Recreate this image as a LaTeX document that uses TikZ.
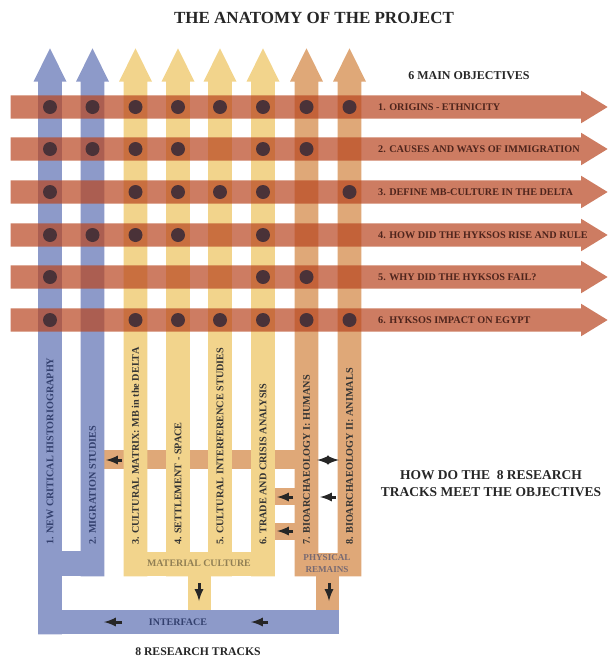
\documentclass[tikz,border=0pt]{standalone}
\usepackage{fontspec}
\setmainfont{Liberation Serif}
\usetikzlibrary{positioning,shapes.arrows}
\definecolor{trackblue}{HTML}{8D9AC9}
\definecolor{trackyellow}{HTML}{F2D48C}
\definecolor{tracktan}{HTML}{DFA878}
\definecolor{objred}{HTML}{B8451F}
\definecolor{dotbrown}{HTML}{4A3238}
\definecolor{navytxt}{HTML}{33406E}
\definecolor{rowtxt}{HTML}{4E241C}

\begin{document}
\begin{tikzpicture}[x=1pt, y=-1pt,
  trk/.style={single arrow, anchor=tip, rotate=90, inner xsep=0pt, inner ysep=11.75pt, minimum width=33pt,
    single arrow head extend=4.5pt, single arrow tip angle=53, single arrow head indent=0pt},
  obj/.style={single arrow, anchor=tip, fill=objred, fill opacity=.7, inner xsep=0pt, inner ysep=11.5pt, minimum width=32pt,
    minimum height=597pt, single arrow head extend=4.5pt, single arrow tip angle=63, single arrow head indent=0pt},
  pt/.style={circle, fill=dotbrown, inner sep=0pt, minimum size=14pt},
  lab/.style={font=\bfseries\fontsize{10.2}{11}\selectfont, text=rowtxt, anchor=west, inner sep=0pt},
  vlab/.style={font=\bfseries\fontsize{10.2}{11}\selectfont, text=black!80, rotate=90, anchor=west, inner sep=0pt},
  head/.style={font=\bfseries\fontsize{13.5}{17}\selectfont, text=black!85, align=center, inner sep=0pt},
  blk/.style={->, >=latex, line width=3pt, black!85}]
\useasboundingbox (0,0) rectangle (608,659);
% columns and rows
\coordinate (c1) at (50,0);
\coordinate (c2) at (92.5,0);
\coordinate (c3) at (135.5,0);
\coordinate (c4) at (178,0);
\coordinate (c5) at (220,0);
\coordinate (c6) at (263,0);
\coordinate (c7) at (306.5,0);
\coordinate (c8) at (349.5,0);
\coordinate (r1) at (0,107);
\coordinate (r2) at (0,149);
\coordinate (r3) at (0,192);
\coordinate (r4) at (0,235);
\coordinate (r5) at (0,277);
\coordinate (r6) at (0,320);
\coordinate (top) at (0,48);
\coordinate (end) at (608,0);
\coordinate (txt) at (378,0);
\coordinate (foot) at (0,545);
% crossing band behind the tracks
\fill[tracktan] (104,450) rectangle (295,469);
\fill[tracktan] (275,488) rectangle (295,505);
\fill[tracktan] (275,523) rectangle (295,540);
% tracks
\node[trk,fill=trackblue,minimum height=586pt]   (t1) at (c1|-top) {};
\node[trk,fill=trackblue,minimum height=528pt]   (t2) at (c2|-top) {};
\node[trk,fill=trackyellow,minimum height=528pt] (t3) at (c3|-top) {};
\node[trk,fill=trackyellow,minimum height=528pt] (t4) at (c4|-top) {};
\node[trk,fill=trackyellow,minimum height=528pt] (t5) at (c5|-top) {};
\node[trk,fill=trackyellow,minimum height=528pt] (t6) at (c6|-top) {};
\node[trk,fill=tracktan,minimum height=528pt]    (t7) at (c7|-top) {};
\node[trk,fill=tracktan,minimum height=528pt]    (t8) at (c8|-top) {};
% feet of the tracks
\fill[trackblue] (50,551) rectangle (104,576);
\fill[trackblue] (38,610) rectangle (339,634);
\fill[trackyellow] (124,552) rectangle (275,576);
\fill[trackyellow] (188,576) rectangle (211,610);
\fill[tracktan] (295,553) rectangle (361,576);
\fill[tracktan] (316,576) rectangle (339,610);
% objectives
\node[obj] (o1) at (end|-r1) {};
\node[obj] (o2) at (end|-r2) {};
\node[obj] (o3) at (end|-r3) {};
\node[obj] (o4) at (end|-r4) {};
\node[obj] (o5) at (end|-r5) {};
\node[obj] (o6) at (end|-r6) {};
% dots
\node[pt] (d11) at (c1|-r1) {};
\node[pt] (d12) at (c2|-r1) {};
\node[pt] (d13) at (c3|-r1) {};
\node[pt] (d14) at (c4|-r1) {};
\node[pt] (d15) at (c5|-r1) {};
\node[pt] (d16) at (c6|-r1) {};
\node[pt] (d17) at (c7|-r1) {};
\node[pt] (d18) at (c8|-r1) {};
%
\node[pt] (d21) at (c1|-r2) {};
\node[pt] (d22) at (c2|-r2) {};
\node[pt] (d23) at (c3|-r2) {};
\node[pt] (d24) at (c4|-r2) {};
\node[pt] (d26) at (c6|-r2) {};
\node[pt] (d27) at (c7|-r2) {};
%
\node[pt] (d31) at (c1|-r3) {};
\node[pt] (d33) at (c3|-r3) {};
\node[pt] (d34) at (c4|-r3) {};
\node[pt] (d35) at (c5|-r3) {};
\node[pt] (d36) at (c6|-r3) {};
\node[pt] (d38) at (c8|-r3) {};
%
\node[pt] (d41) at (c1|-r4) {};
\node[pt] (d42) at (c2|-r4) {};
\node[pt] (d43) at (c3|-r4) {};
\node[pt] (d44) at (c4|-r4) {};
\node[pt] (d46) at (c6|-r4) {};
%
\node[pt] (d51) at (c1|-r5) {};
\node[pt] (d56) at (c6|-r5) {};
\node[pt] (d57) at (c7|-r5) {};
%
\node[pt] (d61) at (c1|-r6) {};
\node[pt] (d63) at (c3|-r6) {};
\node[pt] (d64) at (c4|-r6) {};
\node[pt] (d65) at (c5|-r6) {};
\node[pt] (d66) at (c6|-r6) {};
\node[pt] (d67) at (c7|-r6) {};
\node[pt] (d68) at (c8|-r6) {};
% labels of the objectives
\node[lab] (l1) at (txt|-r1) {1. ORIGINS - ETHNICITY};
\node[lab] (l2) at (txt|-r2) {2. CAUSES AND WAYS OF IMMIGRATION};
\node[lab] (l3) at (txt|-r3) {3. DEFINE MB-CULTURE IN THE DELTA};
\node[lab] (l4) at (txt|-r4) {4. HOW DID THE HYKSOS RISE AND RULE};
\node[lab] (l5) at (txt|-r5) {5. WHY DID THE HYKSOS FAIL?};
\node[lab] (l6) at (txt|-r6) {6. HYKSOS IMPACT ON EGYPT};
% labels of the tracks
\node[vlab,text=navytxt] (v1) at (c1|-foot) {1. NEW CRITICAL HISTORIOGRAPHY};
\node[vlab,text=navytxt] (v2) at (c2|-foot) {2. MIGRATION STUDIES};
\node[vlab] (v3) at (c3|-foot) {3. CULTURAL MATRIX: MB in the DELTA};
\node[vlab] (v4) at (c4|-foot) {4. SETTLEMENT - SPACE};
\node[vlab] (v5) at (c5|-foot) {5. CULTURAL INTERFERENCE STUDIES};
\node[vlab] (v6) at (c6|-foot) {6. TRADE AND CRISIS ANALYSIS};
\node[vlab] (v7) at (c7|-foot) {7. BIOARCHAEOLOGY I: HUMANS};
\node[vlab] (v8) at (c8|-foot) {8. BIOARCHAEOLOGY II: ANIMALS};
% headings
\node[head,font=\bfseries\fontsize{17}{19}\selectfont] (title) at (314,18) {THE ANATOMY OF THE PROJECT};
\node[head,font=\bfseries\fontsize{12}{14}\selectfont] (main) at (469,76) {6 MAIN OBJECTIVES};
\node[head] (how) at (491,484) {HOW DO THE \ 8 RESEARCH\\TRACKS MEET THE OBJECTIVES};
\node[head,font=\bfseries\fontsize{11.7}{14}\selectfont] (tracks) at (198,652) {8 RESEARCH TRACKS};
\node[head,font=\bfseries\fontsize{9.9}{12}\selectfont,text=trackyellow!60!black] (mat) at (199,563) {MATERIAL CULTURE};
\node[head,font=\bfseries\fontsize{9.1}{12}\selectfont,text=navytxt!60!tracktan] (phys) at (327,564) {PHYSICAL\\REMAINS};
\node[head,font=\bfseries\fontsize{10}{12}\selectfont,text=navytxt] (iface) at (178,622) {INTERFACE};
% small arrows
\coordinate (a1) at (122,460);
\coordinate (a2) at (106,460);
\coordinate (a3) at (317,460);
\coordinate (a4) at (339,460);
\coordinate (a5) at (293,497);
\coordinate (a6) at (277,497);
\coordinate (a7) at (293,531);
\coordinate (a8) at (277,531);
\coordinate (a9) at (336,497);
\coordinate (a10) at (320,497);
\coordinate (a11) at (199,583);
\coordinate (a12) at (199,601);
\coordinate (a13) at (329,583);
\coordinate (a14) at (329,601);
\coordinate (a15) at (122,622);
\coordinate (a16) at (104,622);
\coordinate (a17) at (268,622);
\coordinate (a18) at (251,622);
\path[blk]
	(a1) edge (a2)
	(a3) edge[<->] (a4)
	(a5) edge (a6)
	(a7) edge (a8)
	(a9) edge (a10)
%
	(a11) edge (a12)
	(a13) edge (a14)
	(a15) edge (a16)
	(a17) edge (a18)
; %-arrows-%
\end{tikzpicture}
\end{document}
